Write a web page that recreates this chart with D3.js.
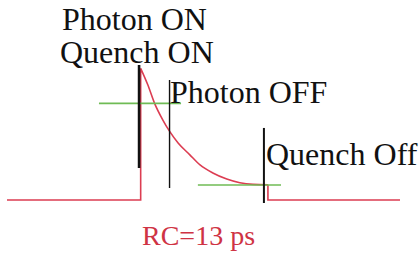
<!DOCTYPE html>
<html>
<head>
<meta charset="utf-8">
<script src="https://cdn.jsdelivr.net/npm/d3@7"></script>
<style>
body { margin:0; background:#fff; }
text { font-family: "Liberation Serif", "Times New Roman", serif; }
</style>
</head>
<body>
<svg id="chart" width="420" height="257"></svg>
<script>
// signal : temps (ps) / tension normalisee
var pulseT = [-50, 0, 0, 2.7, 5.2, 8.3, 10.9, 14.0, 18.3, 22.2, 27.0, 32.2, 37.1, 42.0, 47.6, 47.6, 97];
var pulseV = [0, 0, 1.0, 0.873, 0.734, 0.607, 0.519, 0.433, 0.345, 0.266, 0.205, 0.159, 0.131, 0.119, 0.116, 0, 0];

// marqueurs verticaux (noir)
var markT    = [-0.6, 10.8, 46.1];
var markTop  = [1.025, 0.911, 0.547];
var markBot  = [0.243, 0.091, -0.023];
var markW    = [2.6, 1.4, 2];

// seuils (vert)
var seuilV  = [0.734, 0.114];
var seuilT0 = [-15.6, 21.4];
var seuilT1 = [15.1, 52.5];

// etiquettes
var labels = ["Photon ON", "Quench ON", "Photon OFF", "Quench Off"];
var caption = "RC=13 ps";

var svg = d3.select("#chart");

var x = d3.scaleLinear().domain([-50, 97]).range([7, 400]);
var y = d3.scaleLinear().domain([0, 1]).range([200, 68.3]);

// courbe rouge
var pts = pulseT.map(function(t, i) { return [t, pulseV[i]]; });
var line = d3.line()
    .x(function(d) { return x(d[0]); })
    .y(function(d) { return y(d[1]); })
    .curve(d3.curveLinear);

// partie lisse (decharge RC)
var seg1 = pts.slice(0, 3);
var seg2 = pts.slice(2, 15);
var seg3 = pts.slice(14);

svg.append("path")
    .attr("d", line(seg1) + line.curve(d3.curveMonotoneX)(seg2) + line.curve(d3.curveLinear)(seg3))
    .style("fill", "none")
    .style("stroke", "#dc3d52")
    .style("stroke-width", 1.6);

// seuils
svg.selectAll("line.seuil")
    .data(seuilV)
    .enter().append("line")
    .attr("class", "seuil")
    .attr("x1", function(d, i) { return x(seuilT0[i]); })
    .attr("x2", function(d, i) { return x(seuilT1[i]); })
    .attr("y1", function(d) { return y(d); })
    .attr("y2", function(d) { return y(d); })
    .style("stroke", "#6fbb55")
    .style("stroke-width", 1.6);

// marqueurs
svg.selectAll("line.mark")
    .data(markT)
    .enter().append("line")
    .attr("class", "mark")
    .attr("x1", function(d) { return x(d); })
    .attr("x2", function(d) { return x(d); })
    .attr("y1", function(d, i) { return y(markTop[i]); })
    .attr("y2", function(d, i) { return y(markBot[i]); })
    .style("stroke", "#111")
    .style("stroke-width", function(d, i) { return markW[i]; });

// textes
var lx = [62, 60, 170, 266];
var ly = [30, 63, 103, 165];
svg.selectAll("text.lab")
    .data(labels)
    .enter().append("text")
    .attr("class", "lab")
    .attr("x", function(d, i) { return lx[i]; })
    .attr("y", function(d, i) { return ly[i]; })
    .style("font-size", "32px")
    .style("fill", "#111")
    .text(function(d) { return d; });

svg.append("text")
    .attr("x", 142)
    .attr("y", 245)
    .style("font-size", "28px")
    .style("fill", "#cf3344")
    .text(caption);
</script>
</body>
</html>
